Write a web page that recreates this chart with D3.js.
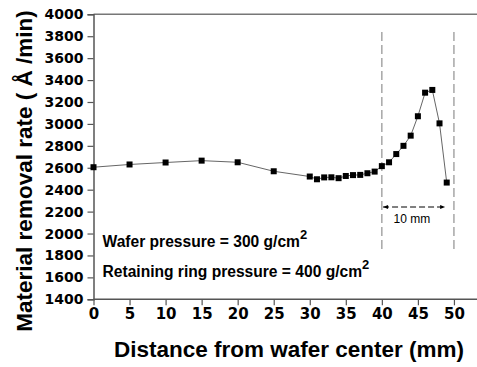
<!DOCTYPE html>
<html><head><meta charset="utf-8">
<script src="https://cdn.jsdelivr.net/npm/d3@7"></script>
<style>body{margin:0;background:#fff}svg{display:block}</style>
</head><body>
<script>
const distance = [0,5,10,15,20,25,30,31,32,33,34,35,36,37,38,39,40,41,42,43,44,45,46,47,48,49];
const removalRate = [2605,2630,2648,2665,2650,2568,2520,2495,2512,2513,2505,2525,2533,2535,2550,2565,2615,2650,2725,2800,2893,3070,3285,3310,3005,2465];
const xTicks = [0,5,10,15,20,25,30,35,40,45,50];
const yTicks = [1400,1600,1800,2000,2200,2400,2600,2800,3000,3200,3400,3600,3800,4000];
const edgeLines = [40,50];
const arrowSpan = [41,48.5];
const arrowLabel = "10 mm";
const notes = [["Wafer pressure = 300 g/cm","2"],["Retaining ring pressure = 400 g/cm","2"]];
const xTitle = "Distance from wafer center (mm)";
const yTitle = "Material removal rate ( Å /min)";

const W=477,H=367;
const svg=d3.select("body").append("svg").attr("width",W).attr("height",H);
const x=d3.scaleLinear().domain([0,53.2]).range([93.5,477]);
const y=d3.scaleLinear().domain([1400,4000]).range([299.3,14.3]);
const axisCol="#555";

// top border
svg.append("line").attr("x1",x(0)).attr("x2",W).attr("y1",y(4000)).attr("y2",y(4000))
  .attr("stroke","#777").attr("stroke-width",1.5);

const gx=svg.append("g").attr("transform",`translate(0,${y(1400)})`)
  .call(d3.axisBottom(x).tickValues(xTicks).tickSize(6).tickPadding(3).tickFormat(d3.format("d")));
const gy=svg.append("g").attr("transform",`translate(${x(0)},0)`)
  .call(d3.axisLeft(y).tickValues(yTicks).tickSize(6).tickPadding(4).tickFormat(d3.format("d")));
[gx,gy].forEach(g=>{
  g.select(".domain").attr("stroke",axisCol).attr("stroke-width",1.5);
  g.selectAll(".tick line").attr("stroke",axisCol).attr("stroke-width",1.2);
  g.selectAll("text").attr("fill","#000").attr("font-family","DejaVu Sans").attr("font-weight","bold");
});
gx.select(".domain").attr("d",`M${x(0)},0H${W}`);
gx.selectAll("text").attr("font-size",15);
gy.selectAll("text").attr("font-size",14);

// dashed edge lines
svg.selectAll(".edge").data(edgeLines).enter().append("line")
  .attr("x1",d=>x(d)).attr("x2",d=>x(d)).attr("y1",32).attr("y2",250)
  .attr("stroke","#999").attr("stroke-width",1.3).attr("stroke-dasharray","9,4");

// arrow
const defs=svg.append("defs");
defs.append("marker").attr("id","ah").attr("viewBox","0 0 10 10").attr("refX",10).attr("refY",5)
  .attr("markerWidth",7).attr("markerHeight",5).attr("orient","auto-start-reverse")
  .append("path").attr("d","M0,1L10,5L0,9Z").attr("fill","#000");
svg.append("line").attr("x1",x(arrowSpan[0])-6).attr("x2",x(arrowSpan[1])+2).attr("y1",207).attr("y2",207)
  .attr("stroke","#000").attr("stroke-width",1).attr("stroke-dasharray","6,3")
  .attr("marker-start","url(#ah)").attr("marker-end","url(#ah)");
svg.append("text").attr("x",x(45)-6).attr("y",223).attr("text-anchor","middle")
  .attr("font-family","Liberation Sans, Arial").attr("font-size",12).text(arrowLabel);

// line + markers
svg.append("path").datum(distance.map((d,i)=>[d,removalRate[i]]))
  .attr("d",d3.line().x(d=>x(d[0])).y(d=>y(d[1])))
  .attr("fill","none").attr("stroke","#666").attr("stroke-width",1);
svg.selectAll(".pt").data(distance).enter().append("rect")
  .attr("x",(d)=>x(d)-3).attr("y",(d,i)=>y(removalRate[i])-3).attr("width",6).attr("height",6).attr("fill","#000");

// notes
const noteY=[246.7,277.3];
notes.forEach((n,i)=>{
  const t=svg.append("text").attr("x",102.5).attr("y",noteY[i]).attr("font-family","Liberation Sans, Arial")
    .attr("font-weight","bold").attr("font-size",15.6).attr("fill","#000");
  t.append("tspan").text(n[0]);
  t.append("tspan").attr("dy",-8).attr("font-size",13).text(n[1]);
});

// titles
svg.append("text").attr("x",289).attr("y",357).attr("text-anchor","middle")
  .attr("font-family","Liberation Sans, Arial").attr("font-weight","bold").attr("font-size",22.5).text(xTitle);
svg.append("text").attr("transform","translate(32,171) rotate(-90)").attr("text-anchor","middle")
  .attr("font-family","Liberation Sans, Arial").attr("font-weight","bold").attr("font-size",22.5).text(yTitle);
</script>
</body></html>
